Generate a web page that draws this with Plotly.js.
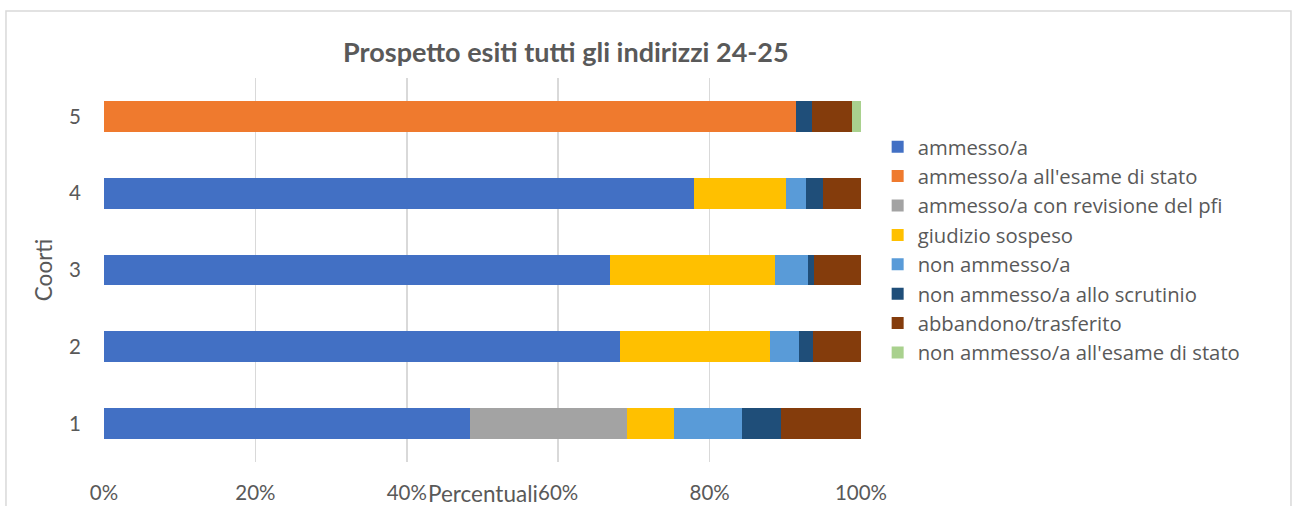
<!DOCTYPE html>
<html>
<head>
<meta charset="utf-8">
<script src="https://cdn.plot.ly/plotly-3.0.1.min.js"></script>
<style>html,body{margin:0;padding:0;background:#fff;}#chart{width:1292px;height:506px;}</style>
</head>
<body>
<div id="chart"></div>
<script>
const cohorts = ['1', '2', '3', '4', '5'];
const seriesNames = [
  'ammesso/a',
  "ammesso/a all'esame di stato",
  'ammesso/a con revisione del pfi',
  'giudizio sospeso',
  'non ammesso/a',
  'non ammesso/a allo scrutinio',
  'abbandono/trasferito',
  "non ammesso/a all'esame di stato"
];
const ammesso          = [48.3, 68.1, 66.9, 77.9, null];
const ammessoEsame     = [null, null, null, null, 91.45];
const ammessoRevisione = [20.8, null, null, null, null];
const giudizioSospeso  = [6.2, 19.9, 21.8, 12.2, null];
const nonAmmesso       = [9.0, 3.8, 4.3, 2.6, null];
const nonAmmessoScrut  = [5.1, 1.9, 0.8, 2.3, 2.05];
const abbandono        = [10.6, 6.3, 6.2, 5.0, 5.3];
const nonAmmessoEsame  = [null, null, null, null, 1.2];
const xTickVals = [0, 20, 40, 60, 80, 100];
const xTickText = ['0%', '20%', '40%', '60%', '80%', '100%'];

const seriesValues = [ammesso, ammessoEsame, ammessoRevisione, giudizioSospeso,
  nonAmmesso, nonAmmessoScrut, abbandono, nonAmmessoEsame];
const colors = ['#4270C4', '#EF7A2E', '#A3A3A3', '#FFC000', '#599BD8', '#1F4E79', '#843C0C', '#A9D18E'];

const FONT = 'Lato, "Open Sans", sans-serif';
const LEGEND_FONT = '"Open Sans", Lato, sans-serif';
const GREY = '#595959';

const traces = seriesNames.map((name, i) => ({
  type: 'bar',
  orientation: 'h',
  name: name,
  y: cohorts,
  x: seriesValues[i],
  marker: {color: colors[i], line: {width: 0}},
  hoverinfo: 'name+x'
}));

const layout = {
  width: 1292,
  height: 506,
  barmode: 'stack',
  bargap: 0.6,
  paper_bgcolor: '#ffffff',
  plot_bgcolor: '#ffffff',
  margin: {l: 104, r: 431, t: 78, b: 44, pad: 0},
  font: {family: FONT, color: GREY, size: 22},
  title: {
    text: '<b>Prospetto esiti tutti gli indirizzi 24-25</b>',
    font: {family: FONT, size: 27, color: GREY},
    x: 0.438, xanchor: 'center', xref: 'container',
    y: 0.897, yref: 'container', yanchor: 'middle'
  },
  xaxis: {
    range: [0, 100],
    tickvals: xTickVals,
    ticktext: xTickText,
    showgrid: true,
    gridcolor: '#d9d9d9',
    gridwidth: 1.5,
    zeroline: false,
    showline: false,
    ticks: '',
    ticklen: 0,
    ticklabelstandoff: 16,
    tickfont: {family: FONT, size: 20.5, color: GREY},
    automargin: false,
    fixedrange: true
  },
  yaxis: {
    type: 'category',
    showgrid: false,
    zeroline: false,
    showline: false,
    ticks: '',
    ticklabelstandoff: 22,
    tickfont: {family: FONT, size: 20.5, color: GREY},
    title: {text: 'Coorti', font: {family: FONT, size: 22.5, color: GREY}, standoff: 10},
    automargin: false,
    fixedrange: true
  },
  legend: {
    x: 1.022, xanchor: 'left',
    y: 0.552, yanchor: 'middle',
    traceorder: 'normal',
    itemwidth: 30,
    font: {family: LEGEND_FONT, size: 20.3, color: GREY},
    bgcolor: 'rgba(0,0,0,0)'
  },
  annotations: [{
    text: 'Percentuali',
    xref: 'paper', yref: 'paper',
    x: 0.5, y: 0,
    xanchor: 'center', yanchor: 'middle',
    yshift: -31,
    showarrow: false,
    font: {family: FONT, size: 22.5, color: GREY}
  }],
  shapes: [{
    type: 'rect', xref: 'paper', yref: 'paper',
    x0: -0.1295, x1: 1.568, y0: -0.2, y1: 1.1745,
    line: {color: '#d9d9d9', width: 1.5},
    fillcolor: 'rgba(0,0,0,0)',
    layer: 'below'
  }],
  showlegend: true
};

Plotly.newPlot('chart', traces, layout, {displayModeBar: false, staticPlot: true});
</script>
</body>
</html>
